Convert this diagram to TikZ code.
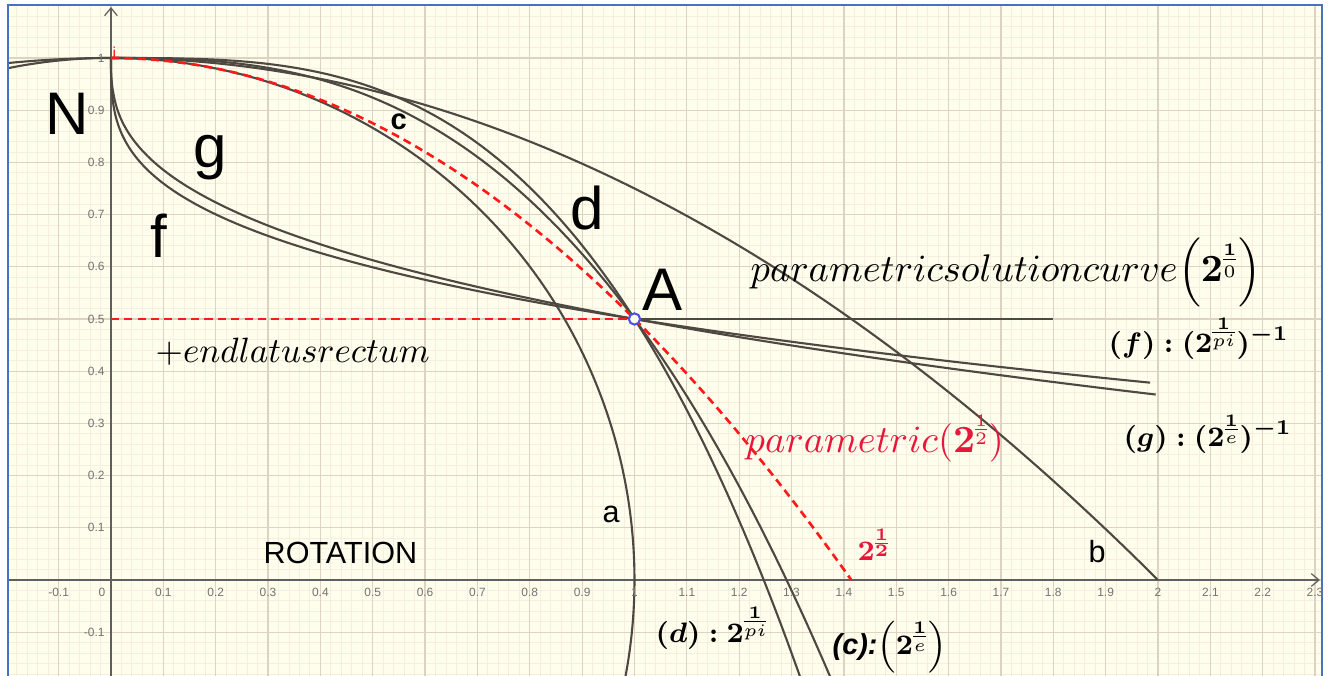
\documentclass[tikz,border=0pt]{standalone}
\usepackage{amsmath}
\usepackage{amssymb}
\usepackage{fontspec}
\usetikzlibrary{calc}
\usetikzlibrary{arrows.meta}
\newfontfamily\arialfont{Liberation Sans}
\definecolor{paper}{RGB}{255,253,235}
\definecolor{minorline}{RGB}{246,239,223}
\definecolor{majorline}{RGB}{221,211,194}
\definecolor{curvegray}{RGB}{78,72,66}
\definecolor{dashred}{RGB}{255,25,25}
\definecolor{textred}{RGB}{232,22,58}
\definecolor{frameblue}{RGB}{68,114,196}
\definecolor{pointblue}{RGB}{80,80,235}
\definecolor{axisgray}{RGB}{95,95,95}
\definecolor{ticktext}{RGB}{115,115,115}
\def\bb#1{\boldsymbol{#1}}
\nulldelimiterspace=0pt

\begin{document}
\begin{tikzpicture}[x=5.235cm,y=5.22cm,
    curve/.style={curvegray,line width=0.6pt},
    redcurve/.style={dashred,line width=0.75pt,dash pattern=on 2.3pt off 1.5pt},
    axisline/.style={axisgray,line width=0.35pt,-{Straight Barb[length=2.2pt,width=3.6pt]}},
    ticklabel/.style={ticktext,inner sep=0pt,font=\arialfont\fontsize{3.4}{4}\selectfont},
    biglabel/.style={inner sep=0pt,anchor=base west,font=\arialfont\fontsize{17.1}{20}\selectfont},
    smalllabel/.style={inner sep=0pt,anchor=base west,font=\arialfont\fontsize{8.7}{10}\selectfont},
    mathlabel/.style={inner sep=0pt,anchor=base west},
    pointmark/.style={circle,draw=pointblue,fill=paper,line width=0.6pt,inner sep=0pt,minimum size=3.2pt}]

  \useasboundingbox (-0.2120,-0.1839) rectangle (2.3286,1.1111);
  \fill[paper] (-0.1968,-0.1839) rectangle (2.3133,1.1015);

  \begin{scope}
    \clip (-0.1968,-0.1839) rectangle (2.3133,1.1015);
    \foreach \i in {-10,...,116} \draw[minorline,line width=0.25pt] (\i/50,-0.19) -- (\i/50,1.11);
    \foreach \j in {-9,...,55} \draw[minorline,line width=0.25pt] (-0.2,\j/50) -- (2.32,\j/50);
    \foreach \i in {-2,...,23} \draw[majorline,line width=0.35pt] (\i/10,-0.19) -- (\i/10,1.11);
    \foreach \j in {-1,...,11} \draw[majorline,line width=0.35pt] (-0.2,\j/10) -- (2.32,\j/10);

    \draw[axisline] (-0.1968,0) -- (2.3095,0);
    \draw[axisline] (0,-0.1839) -- (0,1.0977);

    \draw[curve] (105:1) arc[start angle=105,end angle=-12,radius=1];
    \draw[curve] plot[domain=-0.22:2,samples=120,smooth] (\x,{1-\x*\x/4});
    \draw[curve] (0,1) -- plot[domain=0.02:1.34,samples=150,smooth] (\x,{1-\x^pi/2});
    \draw[curve] (0,1) -- plot[domain=0.02:1.40,samples=150,smooth] (\x,{1-\x^2.71828/2});
    \draw[curve] (0,1) -- plot[domain=0.002:1.2468,samples=200,smooth,variable=\t] ({\t^pi},{1-\t/2});
    \draw[curve] (0,1) -- plot[domain=0.002:1.2905,samples=200,smooth,variable=\t] ({\t^2.71828},{1-\t/2});
    \draw[curve] (1,0.5) -- (1.8,0.5);
    \draw[redcurve] plot[domain=0:1.41421,samples=100,smooth] (\x,{1-\x*\x/2});
    \draw[redcurve] (0,0.5) -- (1,0.5);
  \end{scope}

  \draw[frameblue,line width=0.7pt] (-0.1968,-0.1839) -- (-0.1968,1.1015) -- (2.3133,1.1015) -- (2.3133,-0.1839);

  \foreach \v [count=\n] in {-0.1,0.1,0.2,0.3,0.4,0.5,0.6,0.7,0.8,0.9,1,1.1,1.2,1.3,1.4,1.5,1.6,1.7,1.8,1.9,2,2.1,2.2,2.3}
    \node[ticklabel] (xt\n) at (\v,-0.023) {\v};
  \node[ticklabel] (origin) at (-0.0172,-0.023) {0};
  \foreach \v [count=\n] in {-0.1,0.1,0.2,0.3,0.4,0.5,0.6,0.7,0.8,0.9,1}
    \node[ticklabel,anchor=east] (yt\n) at (-0.011,\v) {\v};

  \node[pointmark] (A) at (1,0.5) {};
  \node[inner sep=0pt,anchor=base west,dashred,font=\arialfont\fontsize{4.5}{5}\selectfont] (ipoint) at (0.0019,0.9999) {i};

  \node[biglabel] (N) at (-0.1261,0.8525) {N};
  \node[biglabel] (g) at (0.1566,0.7893) {g};
  \node[biglabel] (f) at (0.0745,0.6169) {f};
  \node[biglabel] (d) at (0.8768,0.6705) {d};
  \node[biglabel] (Aname) at (1.0143,0.5172) {A};
  \node[smalllabel,font=\arialfont\bfseries\fontsize{8.3}{10}\selectfont] (c) at (0.5330,0.8621) {c};
  \node[smalllabel] (a) at (0.9379,0.1111) {a};
  \node[smalllabel] (b) at (1.8663,0.0326) {b};
  \node[smalllabel] (rotation) at (0.2904,0.0307) {ROTATION};

  \node[mathlabel,font=\fontsize{10.9}{13}\selectfont] (solution) at (1.2206,0.5709)
    {$parametricsolutioncurve\!\left(\bb{2}^{\frac{\bb{1}}{0}}\right)$};
  \node[mathlabel,font=\fontsize{10.35}{13}\selectfont] (latus) at (0.0841,0.4157) {$+endlatusrectum$};
  \node[mathlabel,textred,font=\fontsize{10.6}{12}\selectfont] (redpar) at (1.2111,0.2452)
    {$parametric(\bb{2}^{\frac{1}{2}})$};
  \node[mathlabel,textred,font=\fontsize{7.8}{9}\selectfont] (root) at (1.4250,0.0383) {$\bb{2}^{\bb{\frac{1}{2}}}$};
  \node[mathlabel,font=\fontsize{8.5}{11}\selectfont] (dlabel) at (1.0392,-0.1200)
    {$\bb{(d)}\mathrel{\bb{:}}\bb{2}^{\frac{\bb{1}}{pi}}$};
  \node[mathlabel,font=\fontsize{8.2}{11}\selectfont] (clabel) at (1.3773,-0.1420)
    {{\arialfont\bfseries\itshape (c):}$\left(\bb{2}^{\frac{\bb{1}}{e}}\right)$};
  \node[mathlabel,font=\fontsize{8.5}{11}\selectfont] (flabel) at (1.9045,0.4349)
    {$\bb{(f)}\mathrel{\bb{:}}\bb{(2}^{\frac{\bb{1}}{pi}}\bb{)}^{\bb{-1}}$};
  \node[mathlabel,font=\fontsize{8.5}{11}\selectfont] (glabel) at (1.9331,0.2548)
    {$\bb{(g)}\mathrel{\bb{:}}\bb{(2}^{\frac{\bb{1}}{e}}\bb{)}^{\bb{-1}}$};
\end{tikzpicture}
\end{document}
